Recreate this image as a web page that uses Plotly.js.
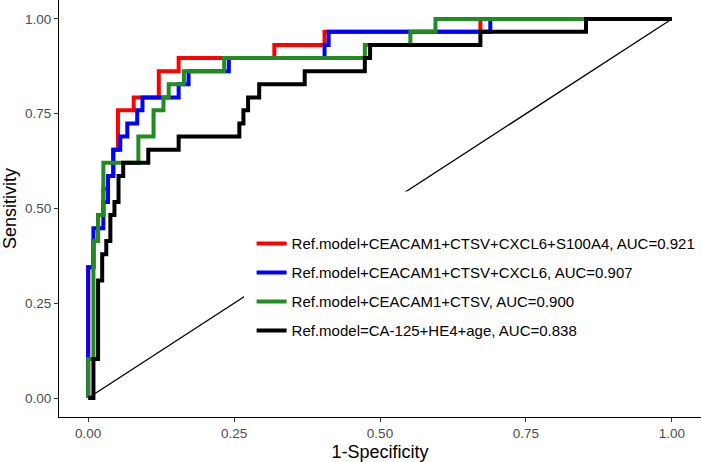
<!DOCTYPE html>
<html>
<head>
<meta charset="utf-8">
<script src="https://cdn.plot.ly/plotly-3.0.1.min.js"></script>
<style>
  html, body { margin: 0; padding: 0; background: #fff; }
  #plot { width: 702px; height: 462px; }
</style>
</head>
<body>
<div id="plot"></div>
<script>
// ROC points (1-specificity, sensitivity), corners of each step
let redFpr = [0, 0, 0.009, 0.017, 0.026, 0.034, 0.043, 0.051, 0.078, 0.121, 0.155, 0.319, 0.405, 0.672, 1];
let redTpr = [0, 0.345, 0.414, 0.483, 0.552, 0.586, 0.655, 0.759, 0.793, 0.862, 0.897, 0.931, 0.966, 1, 1];

let blueFpr = [0, 0, 0.009, 0.026, 0.034, 0.043, 0.055, 0.067, 0.084, 0.093, 0.155, 0.172, 0.241, 0.405, 0.412, 0.689, 1];
let blueTpr = [0, 0.345, 0.448, 0.517, 0.586, 0.655, 0.690, 0.724, 0.759, 0.793, 0.828, 0.862, 0.897, 0.931, 0.966, 1, 1];

let greenFpr = [0, 0, 0.009, 0.017, 0.026, 0.086, 0.112, 0.129, 0.138, 0.164, 0.233, 0.474, 0.552, 0.595, 1];
let greenTpr = [0, 0.103, 0.414, 0.483, 0.621, 0.690, 0.759, 0.793, 0.828, 0.862, 0.897, 0.931, 0.966, 1, 1];

let blackFpr = [0, 0.009, 0.017, 0.024, 0.031, 0.038, 0.045, 0.052, 0.060, 0.103, 0.155, 0.259, 0.266, 0.274, 0.293, 0.371, 0.474, 0.483, 0.672, 0.853, 1];
let blackTpr = [0, 0.103, 0.310, 0.379, 0.414, 0.483, 0.517, 0.586, 0.621, 0.655, 0.690, 0.724, 0.759, 0.793, 0.828, 0.862, 0.897, 0.931, 0.966, 1, 1];

let seriesNames = [
    "Ref.model+CEACAM1+CTSV+CXCL6+S100A4, AUC=0.921",
    "Ref.model+CEACAM1+CTSV+CXCL6, AUC=0.907",
    "Ref.model+CEACAM1+CTSV, AUC=0.900",
    "Ref.model=CA-125+HE4+age, AUC=0.838"
];
let seriesColors = ["#FF0000", "#0000FF", "#228B22", "#000000"];

let tickVals = [0, 0.25, 0.5, 0.75, 1];
let tickText = ["0.00", "0.25", "0.50", "0.75", "1.00"];

let font = "Liberation Sans, Arial, sans-serif";

let xs = [redFpr, blueFpr, greenFpr, blackFpr];
let ys = [redTpr, blueTpr, greenTpr, blackTpr];

let traces = xs.map((x, i) => ({
    x: x,
    y: ys[i],
    name: seriesNames[i],
    legendgroup: "g" + i,
    mode: "lines",
    line: { shape: "hv", color: seriesColors[i], width: 4 },
    type: "scatter"
}));

let axisCommon = {
    range: [-0.05, 1.05],
    tickvals: tickVals,
    ticktext: tickText,
    showgrid: false,
    zeroline: false,
    showline: true,
    linecolor: "#000",
    linewidth: 1.1,
    ticks: "outside",
    ticklen: 4,
    tickwidth: 1.1,
    tickcolor: "#333",
    tickfont: { family: font, size: 13.5, color: "#4D4D4D" }
};

let layout = {
    width: 702,
    height: 462,
    margin: { l: 59, r: 1, t: 0, b: 45 },
    paper_bgcolor: "#fff",
    plot_bgcolor: "#fff",
    showlegend: true,
    legend: {
        x: 0.30, xanchor: "left",
        y: 0.455, yanchor: "top",
        bgcolor: "rgba(0,0,0,0)",
        tracegroupgap: 6.5,
        font: { family: font, size: 15, color: "#000" }
    },
    xaxis: Object.assign({}, axisCommon, {
        title: { text: "1-Specificity", font: { family: font, size: 18, color: "#000" }, standoff: 5 }
    }),
    yaxis: Object.assign({}, axisCommon, {
        title: { text: "Sensitivity", font: { family: font, size: 18, color: "#000" }, standoff: 6 }
    }),
    shapes: [
        { type: "line", xref: "x", yref: "y", x0: 0, y0: 0, x1: 1, y1: 1,
          line: { color: "#000", width: 1.3 }, layer: "below" },
        { type: "rect", xref: "x", yref: "y", x0: 0.267, x1: 1.05, y0: 0.1, y1: 0.545,
          fillcolor: "#fff", line: { width: 0 }, layer: "below" }
    ]
};

Plotly.newPlot("plot", traces, layout, { displayModeBar: false });
</script>
</body>
</html>
